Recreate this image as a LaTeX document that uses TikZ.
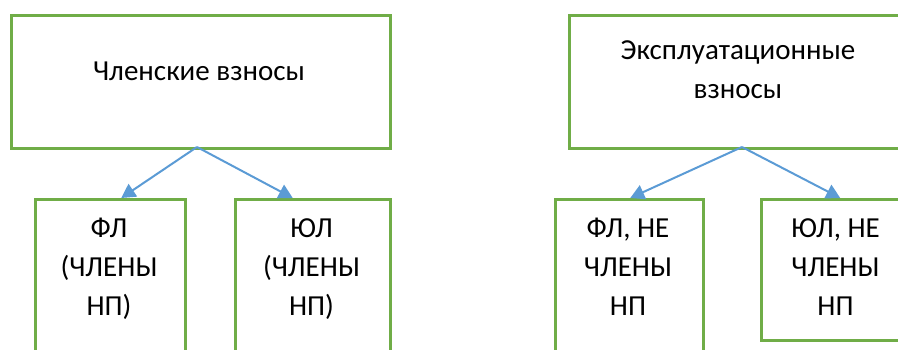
\documentclass[tikz,border=0pt]{standalone}
\usepackage{fontspec}
\setmainfont{Carlito}
\usetikzlibrary{arrows.meta}
\definecolor{boxgreen}{HTML}{70AD47}
\definecolor{arrblue}{HTML}{5B9BD5}
\begin{document}
\begin{tikzpicture}[x=1pt,y=-1pt,
  box/.style={draw=boxgreen,line width=2.5pt,rectangle,anchor=north west,inner sep=0pt},
  txt/.style={align=center,inner sep=0pt,anchor=base,font=\fontsize{29}{38.7}\selectfont},
  conn/.style={draw=arrblue,line width=2pt,-{Triangle[length=14pt,width=15pt]}}]
\useasboundingbox (0,0) rectangle (898,349);
\begin{scope}
\clip (0,0) rectangle (898,349);
\node[box,minimum width=379pt,minimum height=133pt] (m) at (10,14) {};
\node[box,minimum width=150pt,minimum height=170pt] (f1) at (34,198) {};
\node[box,minimum width=155pt,minimum height=170pt] (u1) at (234,198) {};
\node[box,minimum width=340pt,minimum height=133pt] (e) at (568,14) {};
\node[box,minimum width=148pt,minimum height=170pt] (f2) at (554,198) {};
\node[box,minimum width=151pt,minimum height=141pt] (u2) at (760,198) {};
\end{scope}
\node[txt] (mt) at (199,80) {Членские взносы};
\node[txt] (et) at (738,98) {Эксплуатационные\\взносы};
\node[txt] (f1t) at (109,315) {ФЛ\\(ЧЛЕНЫ\\НП)};
\node[txt] (u1t) at (311.5,315) {ЮЛ\\(ЧЛЕНЫ\\НП)};
\node[txt] (f2t) at (628,315) {ФЛ, НЕ\\ЧЛЕНЫ\\НП};
\node[txt] (u2t) at (835.5,315) {ЮЛ, НЕ\\ЧЛЕНЫ\\НП};
\coordinate (ms) at (197,147);
\coordinate (es) at (742,147);
\draw[conn] (ms) -- ([xshift=11pt]f1.north);
\draw[conn] (ms) -- ([xshift=-20pt]u1.north);
\draw[conn] (es) -- ([xshift=1pt]f2.north);
\draw[conn] (es) -- ([xshift=3.5pt]u2.north);
\end{tikzpicture}
\end{document}
